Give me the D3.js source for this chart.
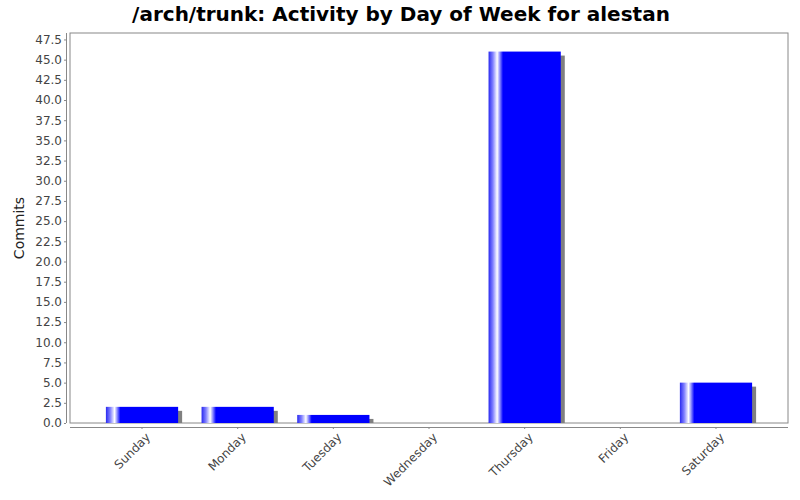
<!DOCTYPE html>
<html><head><meta charset="utf-8">
<script src="https://cdn.jsdelivr.net/npm/d3@7"></script>
<style>body{margin:0;background:#fff}</style>
</head><body>
<svg id="c" width="800" height="500"></svg>
<script>
const days = ["Sunday","Monday","Tuesday","Wednesday","Thursday","Friday","Saturday"];
const commits = [2, 2, 1, 0, 46, 0, 5];
const yTicks = [0,2.5,5,7.5,10,12.5,15,17.5,20,22.5,25,27.5,30,32.5,35,37.5,40,42.5,45,47.5];
const titleText = "/arch/trunk: Activity by Day of Week for alestan";
const yLabel = "Commits";

const svg = d3.select("#c");
const L = 70, R = 788, T = 33, B = 423;
const W = R - L;
const y = d3.scaleLinear().domain([0, 48.3]).range([B, T]);
const x = d3.scaleBand().domain(days).range([L + 0.05*W, R - 0.05*W]).paddingInner(0.245).paddingOuter(0);

const defs = svg.append("defs");
const g = defs.append("linearGradient").attr("id","bg").attr("x1","0").attr("x2","1").attr("y1","0").attr("y2","0");
[[0,"#2828f0"],[0.06,"#8080ff"],[0.12,"#ffffff"],[0.2,"#0000ff"],[1,"#0000ff"]].forEach(s=>g.append("stop").attr("offset",s[0]).attr("stop-color",s[1]));
defs.append("clipPath").attr("id","pc").append("rect").attr("x",L).attr("y",T).attr("width",W).attr("height",B-T);

svg.append("text").attr("x",401).attr("y",21).attr("text-anchor","middle")
  .attr("font-family","DejaVu Sans").attr("font-weight","bold").attr("font-size",20).text(titleText);

svg.append("rect").attr("x",L).attr("y",T).attr("width",W).attr("height",B-T)
  .attr("fill","#fff").attr("stroke","#888").attr("stroke-width",1);

const bars = svg.append("g").attr("clip-path","url(#pc)");
days.forEach((d,i)=>{
  if (commits[i] <= 0) return;
  bars.append("rect").attr("x",x(d)+4).attr("y",y(commits[i])+4).attr("width",x.bandwidth())
    .attr("height",Math.max(0,B-y(commits[i]))).attr("fill","#808080");
});
days.forEach((d,i)=>{
  if (commits[i] <= 0) return;
  bars.append("rect").attr("x",x(d)).attr("y",y(commits[i])).attr("width",x.bandwidth())
    .attr("height",B-y(commits[i])).attr("fill","url(#bg)");
});

const yAxis = svg.append("g").attr("transform",`translate(${L-4},0)`)
  .call(d3.axisLeft(y).tickValues(yTicks).tickFormat(d3.format(".1f")).tickSizeOuter(0).tickSize(2).tickPadding(2));
yAxis.select(".domain").attr("stroke","#888").attr("d",`M0.5,${T}V${B}`);
yAxis.selectAll(".tick line").attr("stroke","#888");
yAxis.selectAll("text").attr("font-family","DejaVu Sans").attr("font-size",12).attr("fill","#444");

const xAxis = svg.append("g").attr("transform",`translate(0,${B+4})`)
  .call(d3.axisBottom(x).tickSizeOuter(0).tickSize(2));
xAxis.select(".domain").attr("stroke","#888").attr("d",`M${L},0.5H${R}`);
xAxis.selectAll(".tick line").attr("stroke","#888");
xAxis.selectAll("text").attr("font-family","DejaVu Sans").attr("font-size",12).attr("fill","#444")
  .attr("text-anchor","end").attr("dy",null).attr("y",0)
  .attr("transform","translate(9,11) rotate(-45)");

svg.append("text").attr("transform",`translate(24,${(T+B)/2}) rotate(-90)`).attr("text-anchor","middle")
  .attr("font-family","DejaVu Sans").attr("font-size",14).attr("fill","#222").text(yLabel);
</script>
</body></html>
